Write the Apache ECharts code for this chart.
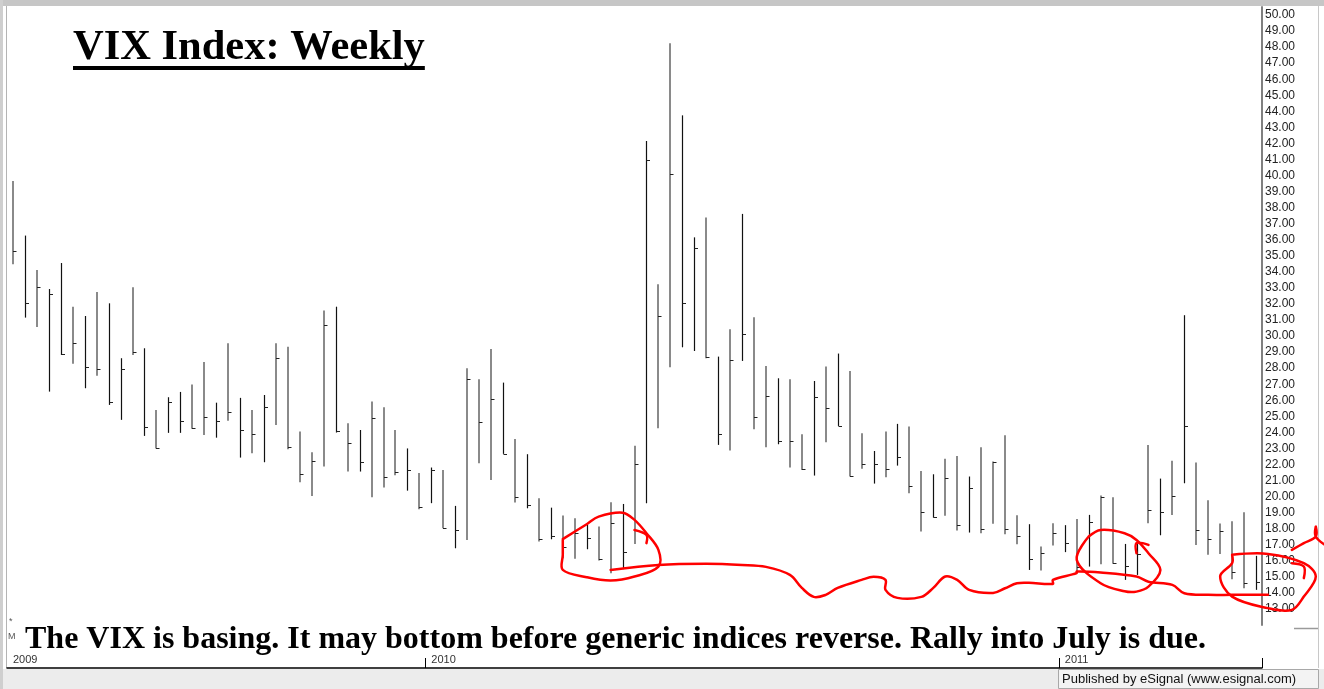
<!DOCTYPE html>
<html>
<head>
<meta charset="utf-8">
<script src="https://cdn.jsdelivr.net/npm/echarts@6/dist/echarts.min.js"></script>
<style>
  html, body { margin: 0; padding: 0; background: #fff; }
  #main { width: 1324px; height: 689px; }
</style>
</head>
<body>
<div id="main"></div>
<script>
// weekly bars, friday of each week
var weeks = [
  '2009-05-01','2009-05-08','2009-05-15','2009-05-22','2009-05-29','2009-06-05','2009-06-12','2009-06-19','2009-06-26',
  '2009-07-03','2009-07-10','2009-07-17','2009-07-24','2009-07-31','2009-08-07','2009-08-14','2009-08-21','2009-08-28',
  '2009-09-04','2009-09-11','2009-09-18','2009-09-25','2009-10-02','2009-10-09','2009-10-16','2009-10-23','2009-10-30',
  '2009-11-06','2009-11-13','2009-11-20','2009-11-27','2009-12-04','2009-12-11','2009-12-18','2009-12-25',
  '2010-01-01','2010-01-08','2010-01-15','2010-01-22','2010-01-29','2010-02-05','2010-02-12','2010-02-19','2010-02-26',
  '2010-03-05','2010-03-12','2010-03-19','2010-03-26','2010-04-02','2010-04-09','2010-04-16','2010-04-23','2010-04-30',
  '2010-05-07','2010-05-14','2010-05-21','2010-05-28','2010-06-04','2010-06-11','2010-06-18','2010-06-25','2010-07-02',
  '2010-07-09','2010-07-16','2010-07-23','2010-07-30','2010-08-06','2010-08-13','2010-08-20','2010-08-27','2010-09-03',
  '2010-09-10','2010-09-17','2010-09-24','2010-10-01','2010-10-08','2010-10-15','2010-10-22','2010-10-29','2010-11-05',
  '2010-11-12','2010-11-19','2010-11-26','2010-12-03','2010-12-10','2010-12-17','2010-12-24','2010-12-31',
  '2011-01-07','2011-01-14','2011-01-21','2011-01-28','2011-02-04','2011-02-11','2011-02-18','2011-02-25','2011-03-04',
  '2011-03-11','2011-03-18','2011-03-25','2011-04-01','2011-04-08','2011-04-15','2011-04-22','2011-04-29'
];

var highs = [
  39.66,36.26,34.12,32.93,34.55,31.83,31.25,32.75,32.04,28.62,33.04,29.24,25.40,26.19,26.52,26.98,28.39,25.85,29.55,
  26.15,25.40,26.33,29.55,29.34,24.05,22.76,31.59,31.83,24.57,24.15,25.92,25.56,24.15,23.00,21.47,21.81,21.66,19.42,
  28.00,27.31,29.20,27.10,23.59,22.64,19.90,19.31,18.82,18.65,18.24,18.13,19.65,19.54,23.16,42.15,33.23,48.24,43.75,
  36.15,37.38,28.72,30.42,37.61,31.17,28.14,27.37,27.31,23.88,27.20,28.10,28.91,27.83,23.95,22.84,24.05,24.53,24.36,
  21.60,21.39,22.35,22.53,21.25,23.07,22.18,23.82,18.84,18.28,16.89,18.34,18.22,18.61,18.86,20.06,19.96,17.05,17.13,
  23.22,21.12,22.24,31.30,22.12,19.77,18.32,18.47,19.03,16.31
];

var lows = [
  34.47,31.15,30.57,26.54,28.82,28.28,26.75,27.52,25.71,24.78,28.82,23.78,22.99,23.97,23.97,24.22,23.84,23.67,24.73,
  22.43,22.70,22.14,24.46,22.95,20.90,20.04,21.87,23.99,21.56,21.56,19.96,20.56,21.33,20.37,19.21,19.59,18.03,16.78,
  17.30,22.08,21.04,22.66,19.63,19.27,17.20,17.34,16.16,16.12,16.72,16.02,15.23,15.48,17.05,19.59,24.26,28.06,29.30,
  29.07,28.62,23.22,22.87,28.45,24.20,23.07,23.26,21.81,21.66,21.31,23.39,24.40,21.25,21.74,20.81,21.21,21.93,20.21,
  17.82,18.69,18.80,17.88,17.76,17.72,18.30,17.66,17.03,15.43,15.39,16.95,16.54,15.33,15.64,15.79,15.81,14.81,15.12,
  18.34,17.59,18.86,20.83,16.99,16.37,16.43,14.85,14.29,14.19
];

var closes = [
  35.32,32.04,33.08,32.62,28.90,29.57,28.10,27.95,25.88,27.95,28.99,24.32,23.05,25.92,24.73,24.26,24.96,24.73,25.25,
  24.15,23.90,25.60,28.66,23.11,21.41,22.22,30.71,24.11,23.32,22.16,24.88,21.21,21.56,21.66,19.38,21.66,18.07,17.92,
  27.31,24.63,26.06,22.66,20.00,19.48,17.34,17.55,16.89,17.72,17.40,16.10,18.34,16.57,22.04,40.97,31.25,40.08,32.04,
  35.47,28.72,23.90,28.51,30.13,24.98,26.27,23.47,23.47,21.70,26.19,25.50,24.42,21.29,22.02,22.02,21.70,22.45,20.68,
  19.03,18.75,21.14,18.24,20.56,18.00,22.16,17.97,17.57,16.12,16.47,17.72,17.10,15.60,18.44,20.00,15.89,15.68,16.41,
  19.17,19.05,20.06,24.42,17.92,17.36,17.88,15.29,14.64,14.70
];

// 1 = up week (grey bar), 0 = down week (black bar)
var upWeek = [
  1,0,1,0,0,1,0,1,0,0,1,0,1,0,0,1,1,0,1,
  0,1,0,1,1,1,1,1,0,1,0,1,1,1,0,1,0,1,0,
  1,1,1,0,1,0,1,0,1,1,0,1,1,0,1,0,1,1,0,
  0,1,0,1,0,1,1,0,1,1,0,1,0,1,1,0,1,0,1,
  1,0,1,1,0,1,1,1,1,0,1,1,0,1,0,1,1,0,0,
  1,0,1,0,1,1,1,1,1,0
];

// hand drawn red marks, in [week index, price]
var circleA = [[46.22,17.35],[47.75,18.28],[49.15,18.75],[50.55,19.0],[52.22,18.55],[53.34,17.72],[54.03,16.68],
  [53.90,15.64],[52.22,15.02],[49.99,14.77],[47.75,14.98],[46.22,15.43],[45.80,16.37],[46.08,17.30]];
var hookA = [[52.36,17.92],[53.19,17.61],[53.34,17.10]];
var waveLine = [[49.99,15.43],[54.17,15.74],[57.52,15.81],[60.87,15.74],[63.38,15.62],[65.06,15.12],[66.06,14.31],
  [66.90,13.75],[67.99,13.88],[69.25,14.31],[70.50,14.81],[71.59,15.0],[72.60,14.81],[73.43,14.19],[74.27,13.69],
  [75.53,13.75],[76.78,14.31],[78.46,15.02],[79.44,14.81],[80.27,14.19],[81.81,14.0],[82.64,14.29],[83.76,14.60],
  [85.43,14.63],[86.69,14.56],[87.11,14.81],[88.50,15.23],[89.34,15.33],[91.02,15.27],[93.80,15.02],[95.48,14.70],
  [96.88,14.50],[98.27,13.98],[99.95,13.88],[101.90,13.88],[104.97,13.88]];
var circleB = [[89.90,17.51],[91.02,17.92],[92.69,17.72],[94.37,17.30],[95.48,16.47],[95.90,15.43],[95.48,14.39],
  [94.37,14.08],[92.69,14.10],[90.74,14.60],[89.06,16.06],[89.90,17.51]];
var hookB = [[94.09,16.47],[94.37,17.10],[94.78,16.99]];
var circleC = [[101.90,16.37],[104.69,16.43],[108.04,15.85],[108.60,15.02],[108.32,13.77],[106.93,12.94],
  [104.69,13.05],[102.18,13.77],[101.21,15.02],[101.62,15.85],[101.90,16.37]];
var hookC = [[107.34,15.85],[108.04,15.64],[108.04,14.92]];
var caretC = [[106.93,16.68],[107.62,17.10],[108.60,17.51],[109.02,18.13],[109.44,17.51],[109.77,16.88]];

var marks = [circleA, hookA, waveLine, circleB, hookB, circleC, hookC, caretC];

var titleText = 'VIX Index: Weekly';
var noteText = 'The VIX is basing. It may bottom before generic indices reverse. Rally into July is due.';

var myChart = echarts.init(document.getElementById('main'));

// width of title for the underline
var cv = document.createElement('canvas').getContext('2d');
cv.font = 'bold 42.5px "Liberation Serif"';
var titleW = cv.measureText(titleText).width;

function yearOf(s) { return s.slice(0, 4); }
function newYear(i) { return i > 0 && yearOf(weeks[i]) !== yearOf(weeks[i - 1]); }

function renderBar(params, api) {
    var i = api.value(0);
    var top = api.coord([i, api.value(1)]);
    var bot = api.coord([i, api.value(2)]);
    var cl = api.coord([i, api.value(3)]);
    var up = api.value(4) === 1;
    var x = Math.round(top[0]) + (up ? 0 : 0.5);
    var cy = Math.round(cl[1]) + 0.5;
    return {
        type: 'group',
        children: [
            { type: 'line', shape: { x1: x, y1: top[1], x2: x, y2: bot[1] },
              style: { stroke: up ? '#8a8a8a' : '#111', lineWidth: up ? 2 : 1.2 } },
            { type: 'line', shape: { x1: x, y1: cy, x2: x + 3.5, y2: cy },
              style: { stroke: '#222', lineWidth: 1 } }
        ]
    };
}

function renderMark(params, api) {
    var pts = marks[params.dataIndex].map(function (p) { return api.coord(p); });
    return {
        type: 'polyline',
        shape: { points: pts, smooth: 0.35 },
        style: { stroke: '#ff0000', lineWidth: 2.5, fill: null, lineCap: 'round', lineJoin: 'round' }
    };
}

var option = {
    animation: false,
    backgroundColor: '#fff',
    grid: { left: 7, right: 62, top: 7, bottom: 64 },
    xAxis: {
        type: 'category',
        data: weeks,
        boundaryGap: true,
        offset: 43,
        axisLine: { show: true, lineStyle: { color: '#000', width: 1.5 } },
        axisTick: {
            show: true, inside: true, length: 10,
            interval: function (i) { return newYear(i); },
            lineStyle: { color: '#000' }
        },
        axisLabel: {
            show: true, inside: true, margin: 3, align: 'left',
            fontFamily: 'Liberation Sans', fontSize: 11, color: '#333',
            interval: function (i) { return i === 0 || newYear(i); },
            formatter: function (v) { return yearOf(v); }
        },
        splitLine: { show: false }
    },
    yAxis: {
        type: 'value',
        position: 'right',
        min: 12,
        max: 50.5,
        interval: 1,
        axisLine: { show: true, lineStyle: { color: '#808080', width: 2 } },
        axisTick: { show: false },
        splitLine: { show: false },
        axisLabel: {
            margin: 3, showMinLabel: false, showMaxLabel: false,
            fontFamily: 'Liberation Sans', fontSize: 12, color: '#222',
            formatter: function (v) { return v.toFixed(2); }
        }
    },
    series: [
        {
            type: 'custom',
            name: 'VIX',
            renderItem: renderBar,
            encode: { x: 0, y: [1, 2, 3] },
            data: weeks.map(function (d, i) { return [i, highs[i], lows[i], closes[i], upWeek[i]]; })
        },
        {
            type: 'custom',
            name: 'marks',
            z: 5,
            clip: false,
            renderItem: renderMark,
            encode: { x: 0, y: 1 },
            data: marks.map(function (m, i) { return [i, 20]; })
        }
    ],
    graphic: [
        { type: 'rect', shape: { x: 0, y: 0, width: 1324, height: 6 }, style: { fill: '#c6c6c6' }, silent: true },
        { type: 'rect', shape: { x: 0, y: 0, width: 3, height: 689 }, style: { fill: '#cfcfcf' }, silent: true },
        { type: 'line', shape: { x1: 6.5, y1: 6, x2: 6.5, y2: 668 }, style: { stroke: '#b4b4b4', lineWidth: 1 }, silent: true },
        { type: 'line', shape: { x1: 1318.5, y1: 6, x2: 1318.5, y2: 668 }, style: { stroke: '#c8c8c8', lineWidth: 1 }, silent: true },
        { type: 'line', shape: { x1: 1294, y1: 628.5, x2: 1318, y2: 628.5 }, style: { stroke: '#9a9a9a', lineWidth: 1.5 }, silent: true },
        { type: 'rect', shape: { x: 3, y: 669, width: 1321, height: 20 }, style: { fill: '#ececec' }, silent: true },
        { type: 'rect', shape: { x: 1058.5, y: 669.5, width: 260, height: 19 }, style: { fill: '#f3f3f3', stroke: '#a8a8a8', lineWidth: 1 }, silent: true },
        { type: 'text', x: 1062, y: 679, style: { text: 'Published by eSignal (www.esignal.com)', font: '13px "Liberation Sans"', fill: '#111', verticalAlign: 'middle' }, silent: true },
        { type: 'text', x: 73, y: 48, style: { text: titleText, font: 'bold 42.5px "Liberation Serif"', fill: '#000', verticalAlign: 'middle' }, silent: true },
        { type: 'rect', shape: { x: 73, y: 66, width: titleW, height: 4 }, style: { fill: '#000' }, silent: true },
        { type: 'text', x: 9, y: 622, style: { text: '*', font: '9px "Liberation Sans"', fill: '#555', verticalAlign: 'middle' }, silent: true },
        { type: 'text', x: 8, y: 637, style: { text: 'M', font: '9px "Liberation Sans"', fill: '#555', verticalAlign: 'middle' }, silent: true },
        { type: 'text', x: 25, y: 640, z: 10, style: { text: noteText, font: 'bold 32px "Liberation Serif"', fill: '#000', verticalAlign: 'middle' }, silent: true }
    ]
};

myChart.setOption(option);
</script>
</body>
</html>
